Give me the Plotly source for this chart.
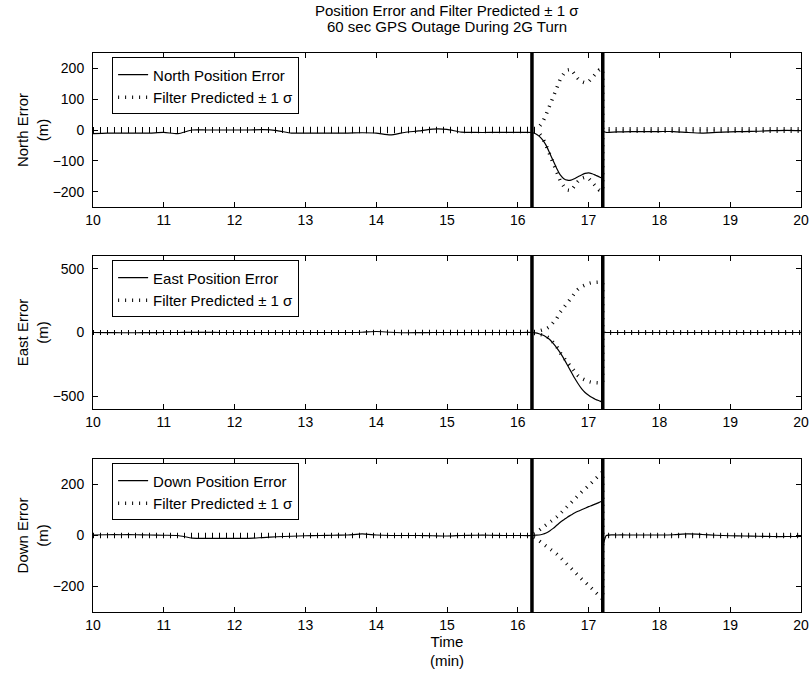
import plotly.graph_objects as go
from plotly.subplots import make_subplots

# ---------------- time grids (min) ----------------
t_before = [10.0, 10.2, 10.4, 10.6, 10.8, 11.0, 11.2, 11.4, 11.6, 11.8, 12.0, 12.2, 12.4, 12.6, 12.8, 13.0,
            13.2, 13.4, 13.6, 13.8, 14.0, 14.2, 14.4, 14.6, 14.8, 15.0, 15.2, 15.4, 15.6, 15.8, 16.0, 16.2]
t_outage = [16.2, 16.25, 16.3, 16.35, 16.4, 16.45, 16.5, 16.55, 16.6, 16.65, 16.7, 16.75, 16.8, 16.85,
            16.9, 16.95, 17.0, 17.05, 17.1, 17.15, 17.2]
t_after = [17.2, 17.25, 17.4, 17.6, 17.8, 18.0, 18.2, 18.4, 18.6, 18.8, 19.0, 19.2, 19.4, 19.6, 19.8, 20.0]

outage_start = 16.2
outage_end = 17.2

# ---------------- North ----------------
north_err_before = [-12, -10, -10, -10, -10, -8, -12, 0, 0, 0, 0, 0, 1, -2, -10, -10,
                    -10, -10, -10, -9, -10, -16, -8, -3, 3, 2, -7, -8, -8, -8, -8, -8]
north_err_outage = [-8, -12, -20, -32, -50, -75, -100, -125, -146, -158, -163, -163, -158, -152,
                    -146, -141, -139, -142, -147, -152, -156]
north_err_after = [-5, -8, -6, -5, -5, -5, -5, -8, -10, -8, -6, -5, -4, -2, -1, -2]
north_sig_before = [4, 4, 4, 4, 4, 4, 4, 4, 4, 4, 4, 4, 4, 4, 4, 4,
                    4, 4, 4, 4, 4, 4, 4, 4, 4, 4, 4, 4, 4, 4, 4, 4]
north_sig_outage = [5, 5, 10, 25, 50, 80, 108, 140, 165, 183, 195, 197, 182, 167,
                    157, 153, 157, 170, 185, 195, 198]
north_sig_after = [4, 4, 4, 4, 4, 4, 4, 4, 4, 4, 4, 4, 4, 4, 4, 4]

# ---------------- East ----------------
east_err_before = [0, -1, -2, -2, -1, 0, 0, 1, 1, 0, 0, 0, 0, 0, 0, 0,
                   0, 0, 0, 2, 8, 2, -2, -1, 0, 0, 0, 0, 0, 0, 0, 0]
east_err_outage = [0, -3, -10, -20, -35, -55, -85, -120, -160, -205, -255, -305, -355, -400,
                   -440, -470, -492, -510, -525, -535, -545]
east_err_after = [0, 0, 0, 0, 0, 0, 0, 0, 0, 0, 0, 0, 0, 0, 0, 0]
east_sig_before = [5, 5, 5, 5, 5, 5, 5, 5, 5, 5, 5, 5, 5, 5, 5, 5,
                   5, 5, 5, 5, 5, 5, 5, 5, 5, 5, 5, 5, 5, 5, 5, 5]
east_sig_outage = [5, 8, 12, 18, 28, 45, 75, 110, 160, 200, 235, 268, 305, 338,
                   360, 375, 385, 392, 395, 395, 393]
east_sig_after = [5, 5, 5, 5, 5, 5, 5, 5, 5, 5, 5, 5, 5, 5, 5, 5]

# ---------------- Down ----------------
down_err_before = [2, 3, 3, 3, 2, 1, 0, -10, -11, -11, -11, -11, -8, -5, -3, -1,
                   0, 1, 2, 6, 2, 0, 0, 0, -1, -2, 0, 1, 1, 0, 0, 0]
down_err_outage = [0, 1, 2, 5, 10, 18, 28, 40, 52, 62, 72, 80, 88, 95,
                   101, 107, 113, 118, 124, 130, 135]
down_err_after = [-40, 0, 2, 2, 2, 2, 3, 6, 4, 1, -1, -2, -3, -4, -4, -4]
down_sig_before = [4, 4, 4, 4, 4, 4, 4, 4, 4, 4, 4, 4, 4, 4, 4, 4,
                   4, 4, 4, 4, 4, 4, 4, 4, 4, 4, 4, 4, 4, 4, 4, 4]
down_sig_outage = [5, 10, 20, 30, 40, 50, 60, 73, 86, 100, 115, 130, 145, 158,
                   170, 182, 195, 208, 222, 236, 250]
down_sig_after = [4, 4, 4, 4, 4, 4, 4, 4, 4, 4, 4, 4, 4, 4, 4, 4]

panels = [
    ("North Position Error", "North Error<br>(m)", [-250, 250], [-200, -100, 0, 100, 200],
     north_err_before, north_err_outage, north_err_after,
     north_sig_before, north_sig_outage, north_sig_after),
    ("East Position Error", "East Error<br>(m)", [-600, 600], [-500, 0, 500],
     east_err_before, east_err_outage, east_err_after,
     east_sig_before, east_sig_outage, east_sig_after),
    ("Down Position Error", "Down Error<br>(m)", [-300, 300], [-200, 0, 200],
     down_err_before, down_err_outage, down_err_after,
     down_sig_before, down_sig_outage, down_sig_after),
]

x_ticks = [10, 11, 12, 13, 14, 15, 16, 17, 18, 19, 20]

FONT = "Liberation Sans, Arial, Helvetica, sans-serif"

fig = make_subplots(rows=3, cols=1, vertical_spacing=0.05)

# plot-area domains (paper fractions) to match reference pixel layout
y_domains = [[0.7245, 1.0], [0.3631, 0.6369], [0.0, 0.2737]]
legend_names = ["legend", "legend2", "legend3"]

time_all = t_before + t_outage[1:] + t_after
for i, (err_name, ylab, yr, yt, eb, eo, ea, sb, so, sa) in enumerate(panels):
    row = i + 1
    err = eb + eo[1:] + ea
    sig = sb + so[1:] + sa
    sig_x = time_all + [None] + time_all
    sig_y = sig + [None] + [-s for s in sig]
    fig.add_trace(go.Scatter(
        x=time_all, y=err, mode="lines", name=err_name,
        line=dict(color="black", width=1.2, shape="spline", smoothing=0.6),
        legend=legend_names[i]), row=row, col=1)
    fig.add_trace(go.Scatter(
        x=sig_x, y=sig_y, mode="lines", name="Filter Predicted \u00b1 1 \u03c3",
        line=dict(color="black", width=3.5, dash="1px,6px"),
        connectgaps=False, legend=legend_names[i]), row=row, col=1)

    ax_suffix = "" if i == 0 else str(row)
    fig.update_yaxes(range=yr, tickvals=yt, ticktext=[str(v).replace("-", "\u2212") for v in yt],
                     title=dict(text=ylab, font=dict(size=15, family=FONT), standoff=0),
                     domain=y_domains[i], row=row, col=1)
    fig.update_xaxes(range=[10, 20], tickvals=x_ticks, row=row, col=1)

    for xv in (outage_start, outage_end):
        fig.add_shape(type="line", x0=xv, x1=xv, y0=0, y1=1,
                      xref="x" + ax_suffix, yref="y" + ax_suffix + " domain",
                      line=dict(color="black", width=3.5))

    dom = y_domains[i]
    leg = dict(x=0.027, y=dom[1] - 0.008, xanchor="left", yanchor="top",
               bgcolor="white", bordercolor="black", borderwidth=1,
               font=dict(size=15, family=FONT, color="black"),
               tracegroupgap=0, itemwidth=30)
    fig.update_layout({legend_names[i]: leg})

fig.update_xaxes(showline=True, linecolor="black", linewidth=1, mirror="ticks",
                 ticks="inside", ticklen=5, tickcolor="black", showgrid=False, zeroline=False,
                 automargin=False,
                 tickfont=dict(size=14, family=FONT, color="black"))
fig.update_yaxes(showline=True, linecolor="black", linewidth=1, mirror="ticks",
                 ticks="inside", ticklen=5, tickcolor="black", showgrid=False, zeroline=False,
                 automargin=False, ticklabelstandoff=5,
                 tickfont=dict(size=14, family=FONT, color="black"))
fig.update_xaxes(title=dict(text="Time<br>(min)", font=dict(size=15, family=FONT), standoff=2),
                 row=3, col=1)

# two-line title above the top panel
fig.add_annotation(text="Position Error and Filter Predicted \u00b1 1 \u03c3",
                   xref="paper", yref="paper", x=0.5, y=1 + 42 / 559, xanchor="center",
                   yanchor="middle", showarrow=False,
                   font=dict(size=15, family=FONT, color="black"))
fig.add_annotation(text="60 sec GPS Outage During 2G Turn",
                   xref="paper", yref="paper", x=0.5, y=1 + 26 / 559, xanchor="center",
                   yanchor="middle", showarrow=False,
                   font=dict(size=15, family=FONT, color="black"))

fig.update_layout(
    width=812, height=675,
    margin=dict(l=93, r=11, t=53, b=63, autoexpand=False),
    paper_bgcolor="white", plot_bgcolor="white",
    showlegend=True,
    font=dict(family=FONT, color="black"),
)

fig.write_html("out.html", config={"displayModeBar": False},
               post_script="document.body.style.margin='0px';")
